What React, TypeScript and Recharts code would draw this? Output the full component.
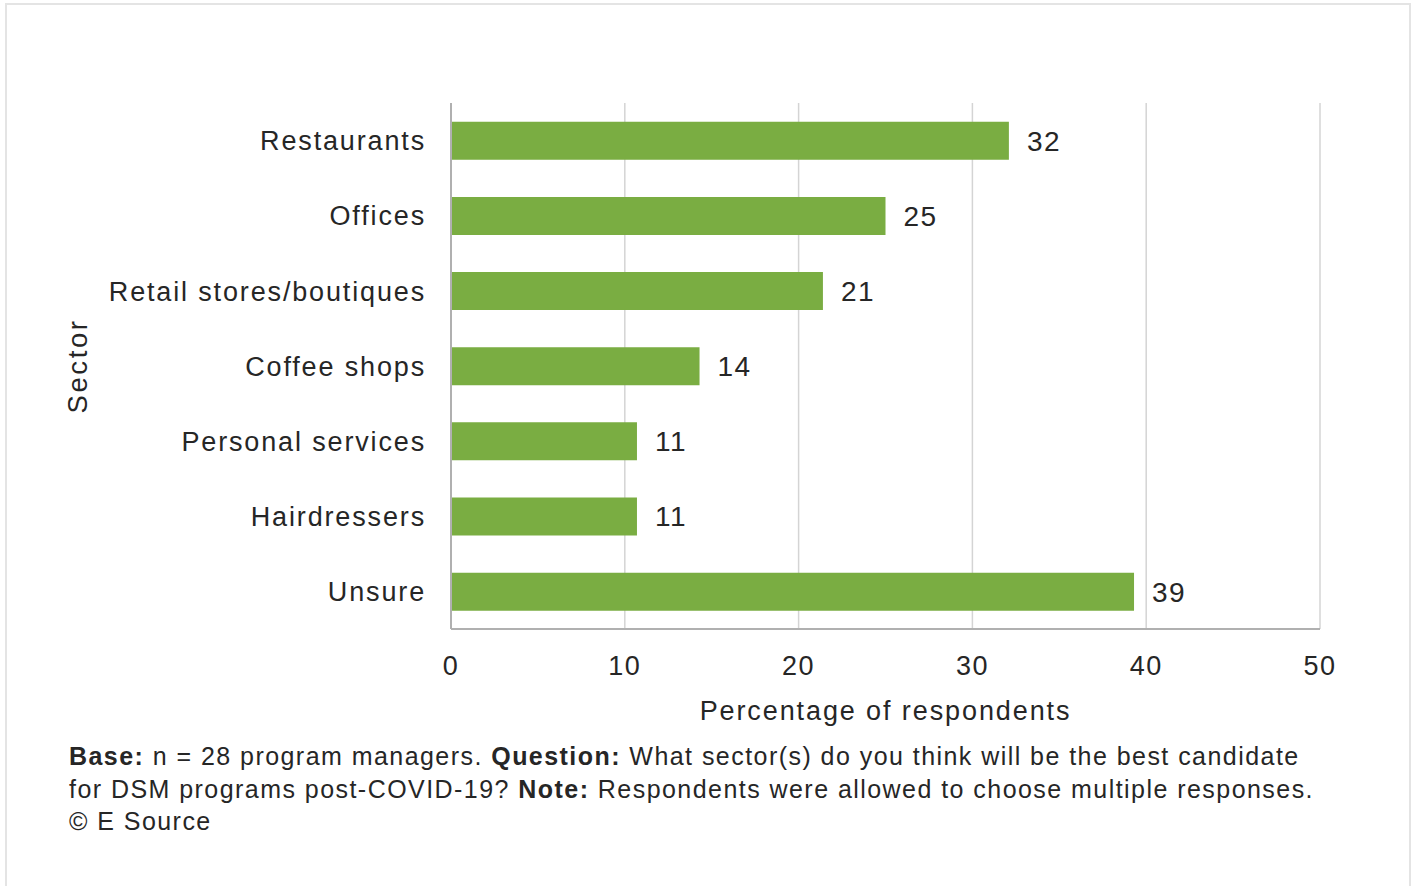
import React from "react";
import { BarChart, Bar, XAxis, YAxis, CartesianGrid, LabelList, Label } from "recharts";

// shares of respondents (n = 28), labels show rounded values
const sectors = [
  "Restaurants",
  "Offices",
  "Retail stores/boutiques",
  "Coffee shops",
  "Personal services",
  "Hairdressers",
  "Unsure",
];
const shares = [32.1, 25.0, 21.4, 14.3, 10.7, 10.7, 39.3];
const xTicks = [0, 10, 20, 30, 40, 50];

const data = sectors.map((name, i) => ({ name, value: shares[i] }));

const FONT = '"Liberation Sans", Arial, Helvetica, sans-serif';
const TEXT = "#262626";
const GREEN = "#7aad42";

const YTick = (props: any) => {
  const { x, y, payload } = props;
  return (
    <text
      x={x}
      y={y}
      dy="0.36em"
      textAnchor="end"
      fill={TEXT}
      style={{ fontFamily: FONT, fontSize: 27, letterSpacing: 1.85 }}
    >
      {payload.value}
    </text>
  );
};

const XTick = (props: any) => {
  const { x, y, payload } = props;
  return (
    <text
      x={x}
      y={y}
      dy="0.71em"
      textAnchor="middle"
      fill={TEXT}
      style={{ fontFamily: FONT, fontSize: 27, letterSpacing: 1.5 }}
    >
      {payload.value}
    </text>
  );
};

const SectorLabel = (props: any) => {
  const vb = props.viewBox || { y: 103, height: 526 };
  const cx = 77;
  const cy = vb.y + vb.height / 2;
  return (
    <text
      x={cx}
      y={cy}
      transform={`rotate(-90 ${cx} ${cy})`}
      textAnchor="middle"
      dominantBaseline="central"
      fill={TEXT}
      style={{ fontFamily: FONT, fontSize: 27.5, letterSpacing: 2.6 }}
    >
      Sector
    </text>
  );
};

export default function App() {
  return (
    <div
      style={{
        position: "absolute",
        left: 0,
        top: 0,
        width: 1416,
        height: 886,
        background: "#fff",
        overflow: "hidden",
        fontFamily: FONT,
      }}
    >
      <div
        style={{
          position: "absolute",
          left: 5,
          top: 3,
          width: 1406,
          height: 910,
          border: "2px solid #e4e4e4",
          boxSizing: "border-box",
        }}
      />
      <BarChart
        width={1416}
        height={740}
        data={data}
        layout="vertical"
        margin={{ top: 103, right: 96, bottom: 11, left: 0 }}
        barCategoryGap="25%"
        style={{ position: "absolute", left: 0, top: 0 }}
      >
        <CartesianGrid horizontal={false} vertical stroke="#d4d4d4" strokeWidth={1.5} />
        <XAxis
          type="number"
          domain={[0, 50]}
          ticks={xTicks}
          interval={0}
          tickLine={false}
          tickSize={0}
          tickMargin={27}
          axisLine={{ stroke: "#b0b0b0", strokeWidth: 2 }}
          tick={<XTick />}
          height={100}
        >
          <Label
            value="Percentage of respondents"
            position="insideBottom"
            offset={9}
            fill={TEXT}
            style={{ fontFamily: FONT, fontSize: 27, letterSpacing: 1.9 }}
          />
        </XAxis>
        <YAxis
          type="category"
          dataKey="name"
          width={451}
          tickLine={false}
          tickSize={0}
          tickMargin={25}
          axisLine={{ stroke: "#b0b0b0", strokeWidth: 2 }}
          tick={<YTick />}
          interval={0}
        >
          <Label content={<SectorLabel />} />
        </YAxis>
        <Bar dataKey="value" fill={GREEN} isAnimationActive={false}>
          <LabelList
            dataKey="value"
            position="right"
            offset={18}
            formatter={(v: any) => Math.round(Number(v))}
            fill={TEXT}
            style={{ fontFamily: FONT, fontSize: 28, letterSpacing: 1.5 }}
          />
        </Bar>
      </BarChart>
      <div
        style={{
          position: "absolute",
          left: 69,
          top: 740,
          fontSize: 25,
          lineHeight: "32.7px",
          color: TEXT,
          letterSpacing: 1.45,
          whiteSpace: "nowrap",
        }}
      >
        <b>Base:</b> n = 28 program managers. <b>Question:</b> What sector(s) do you think will be the best candidate
        <br />
        for DSM programs post-COVID-19? <b>Note:</b> Respondents were allowed to choose multiple responses.
        <br />© E Source
      </div>
    </div>
  );
}
